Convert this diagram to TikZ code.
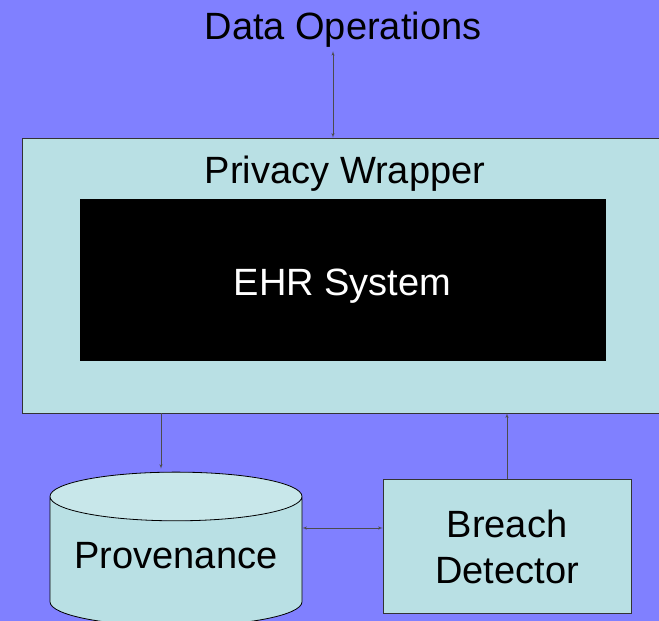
\documentclass[tikz,border=0pt]{standalone}
\usepackage{fontspec}
\setmainfont{Liberation Sans}
\usepackage{tikz}
\usetikzlibrary{arrows,positioning,shapes.geometric}
\definecolor{backblue}{RGB}{128,128,255}
\definecolor{paleteal}{RGB}{185,224,228}
\definecolor{paletop}{RGB}{200,231,234}

\begin{document}
\begin{tikzpicture}[
		x=1pt, y=-1pt,
		>=latex',
		font=\fontsize{38}{46}\selectfont,
		box/.style={
			rectangle,
			draw=black!80,
			line width=0.8pt,
			fill=paleteal,
			inner sep=0pt,
			align=center
		},
		store/.style={
			cylinder,
			shape border rotate=90,
			draw=black,
			line width=0.8pt,
			aspect=0.24,
			cylinder uses custom fill,
			cylinder body fill=paleteal,
			cylinder end fill=paletop,
			inner sep=0pt
		},
		link/.style={
			draw=black!70,
			line width=0.5pt
		}
		]
		\clip (0,0) rectangle (659,621);
		\fill[backblue] (0,0) rectangle (659,621);
		
		% We start by placing the blocks
		\node (ops) at (343,30) {Data Operations};
		
		\node [box, minimum width=642pt, minimum height=275pt] (wrapper) at (343,275.5) {};
		\node (wraptitle) at (345,174) {Privacy Wrapper};
		
		\node [box, fill=black, draw=black, minimum width=525pt, minimum height=161pt,
			text=white, text height=32pt, text depth=0pt] (ehr) at (342.5,279.5) {EHR System};
		
		\node [store, minimum width=252pt, minimum height=154pt,
			text height=14pt, text depth=0pt] (prov) at (176,561.5) {Provenance};
		
		\node [box, minimum width=248pt, minimum height=134pt] (breach) at (507,546.5)
		{Breach\\Detector};
		
		\draw [link,<->] ([xshift=-10pt]ops.south) -- ([xshift=-10pt]ops.south |- wrapper.north);
		\draw [link,->] ([xshift=-15pt]prov.north |- wrapper.south) -- ([xshift=-15pt,yshift=3pt]prov.north);
		\draw [link,<->] ([yshift=18.5pt]breach.west) -- ([yshift=18.5pt]breach.west -| prov.east);
		\draw [link,->] (breach.north) -- (breach.north |- wrapper.south);
		
\end{tikzpicture}
\end{document}
